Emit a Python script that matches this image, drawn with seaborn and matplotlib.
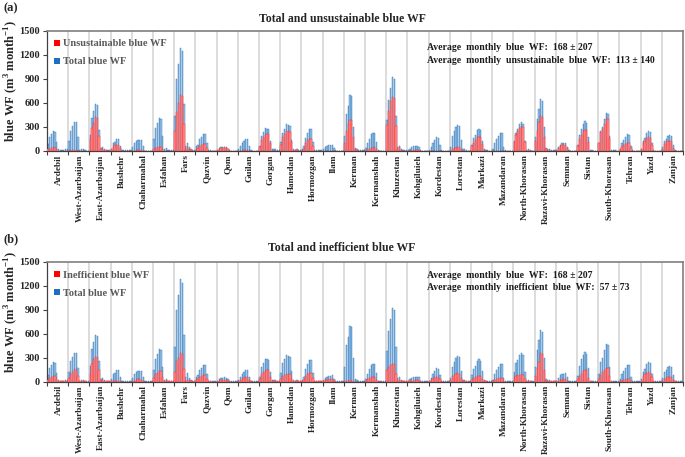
import numpy as np
import pandas as pd
import matplotlib
matplotlib.use("Agg")
import matplotlib.pyplot as plt
from matplotlib.patches import Patch
import seaborn as sns

provinces = ["Ardebil", "West-Azarbaijan", "East-Azarbaijan", "Bushehr", "Chaharmahal",
             "Esfahan", "Fars", "Qazvin", "Qom", "Guilan", "Gorgan", "Hamedan",
             "Hormozgan", "Ilam", "Kerman", "Kermanshah", "Khuzestan", "Kohgiluieh",
             "Kordestan", "Lorestan", "Markazi", "Mazandaran", "North-Khorasan",
             "Razavi-Khorasan", "Semnan", "Sistan", "South-Khorasan", "Tehran", "Yazd", "Zanjan"]

# monthly total blue WF (12 months per province)
total_wf = [
    [90, 175, 215, 250, 240, 115, 20, 15, 10, 15, 20, 20],        # Ardebil
    [120, 255, 305, 360, 355, 170, 15, 25, 20, 10, 5, 5],         # West-Azarbaijan
    [195, 405, 495, 585, 570, 265, 35, 50, 25, 15, 10, 10],       # East-Azarbaijan
    [30, 95, 110, 145, 145, 65, 15, 10, 10, 10, 10, 10],          # Bushehr
    [45, 100, 120, 140, 140, 135, 65, 5, 3, 3, 3, 5],             # Chaharmahal
    [145, 290, 350, 405, 400, 190, 20, 35, 15, 10, 10, 10],       # Esfahan
    [430, 900, 1085, 1285, 1240, 585, 60, 105, 50, 20, 15, 10],   # Fars
    [60, 80, 145, 175, 210, 210, 100, 15, 10, 5, 5, 5],           # Qazvin
    [15, 35, 45, 50, 55, 50, 30, 10, 5, 5, 5, 5],                 # Qom
    [20, 60, 95, 120, 150, 150, 60, 10, 5, 3, 3, 3],              # Guilan
    [60, 185, 235, 285, 280, 270, 125, 25, 25, 25, 10, 10],       # Gorgan
    [110, 230, 280, 335, 320, 310, 140, 20, 15, 20, 10, 10],      # Hamedan
    [20, 60, 165, 225, 275, 275, 115, 10, 10, 10, 10, 15],        # Hormozgan
    [20, 45, 60, 70, 75, 80, 40, 15, 5, 5, 5, 5],                 # Ilam
    [185, 455, 565, 700, 680, 300, 35, 20, 15, 10, 10, 10],       # Kerman
    [40, 95, 155, 215, 225, 220, 115, 10, 5, 5, 5, 5],            # Kermanshah
    [380, 640, 780, 920, 900, 430, 45, 60, 25, 10, 10, 10],       # Khuzestan
    [10, 30, 45, 60, 65, 60, 55, 15, 5, 5, 5, 5],                 # Kohgiluieh
    [10, 50, 100, 135, 170, 165, 80, 15, 5, 5, 5, 5],             # Kordestan
    [50, 190, 250, 300, 325, 315, 140, 20, 25, 10, 5, 5],         # Lorestan
    [80, 160, 200, 260, 280, 265, 130, 20, 15, 10, 5, 5],         # Markazi
    [25, 95, 150, 190, 220, 220, 50, 10, 5, 5, 5, 5],             # Mazandaran
    [125, 230, 275, 330, 360, 340, 125, 15, 20, 10, 5, 5],        # North-Khorasan
    [180, 400, 520, 650, 620, 300, 40, 25, 20, 10, 10, 10],       # Razavi-Khorasan
    [15, 45, 80, 95, 100, 105, 55, 10, 5, 5, 5, 5],               # Semnan
    [75, 200, 280, 340, 370, 350, 170, 15, 10, 5, 5, 5],          # Sistan
    [100, 250, 300, 400, 470, 460, 190, 15, 10, 10, 5, 5],        # South-Khorasan
    [30, 100, 135, 175, 210, 205, 65, 10, 5, 5, 5, 5],            # Tehran
    [30, 120, 160, 220, 245, 235, 100, 10, 5, 5, 5, 5],           # Yazd
    [50, 120, 150, 185, 200, 190, 80, 10, 5, 5, 5, 5],            # Zanjan
]

# monthly unsustainable blue WF
unsustainable_wf = [
    [20, 30, 40, 45, 40, 20, 5, 5, 3, 2, 5, 5],
    [5, 10, 10, 10, 10, 5, 0, 0, 0, 0, 0, 0],
    [150, 290, 350, 420, 410, 190, 20, 30, 15, 8, 5, 5],
    [20, 50, 75, 80, 75, 40, 5, 5, 5, 5, 5, 5],
    [3, 5, 8, 10, 10, 8, 5, 0, 0, 0, 0, 0],
    [20, 35, 45, 50, 50, 25, 5, 5, 3, 2, 2, 2],
    [245, 490, 600, 700, 690, 330, 30, 45, 20, 10, 5, 5],
    [25, 40, 60, 80, 90, 85, 40, 5, 3, 2, 2, 2],
    [10, 25, 35, 40, 45, 40, 20, 5, 3, 3, 3, 3],
    [2, 5, 5, 8, 10, 10, 5, 2, 0, 0, 0, 0],
    [45, 135, 180, 205, 215, 210, 100, 5, 5, 5, 3, 3],
    [80, 170, 215, 245, 245, 235, 115, 10, 10, 10, 5, 5],
    [10, 30, 100, 135, 150, 150, 60, 5, 5, 5, 5, 5],
    [2, 3, 5, 5, 5, 5, 3, 1, 0, 0, 0, 0],
    [105, 255, 335, 385, 385, 170, 20, 10, 5, 5, 5, 5],
    [5, 20, 30, 40, 40, 45, 20, 2, 0, 0, 0, 0],
    [320, 500, 620, 670, 660, 310, 30, 45, 15, 5, 5, 5],
    [2, 5, 5, 8, 10, 10, 8, 3, 1, 0, 0, 0],
    [1, 2, 3, 4, 5, 5, 3, 1, 0, 0, 0, 0],
    [5, 25, 35, 40, 45, 45, 20, 5, 3, 2, 2, 2],
    [65, 100, 135, 170, 175, 170, 90, 10, 5, 5, 3, 3],
    [1, 2, 3, 3, 3, 3, 2, 1, 0, 0, 0, 0],
    [110, 200, 250, 290, 300, 295, 110, 5, 10, 5, 3, 3],
    [125, 255, 360, 430, 420, 180, 25, 15, 10, 5, 5, 5],
    [10, 35, 60, 70, 75, 75, 40, 5, 2, 2, 2, 2],
    [65, 150, 200, 250, 265, 265, 115, 5, 5, 3, 3, 3],
    [95, 235, 270, 335, 400, 400, 165, 5, 5, 5, 3, 3],
    [20, 55, 75, 90, 100, 95, 40, 5, 2, 2, 2, 2],
    [20, 95, 125, 160, 170, 165, 70, 5, 2, 2, 2, 2],
    [30, 85, 110, 120, 125, 120, 40, 5, 2, 2, 2, 2],
]

# monthly inefficient blue WF
inefficient_wf = [
    [25, 50, 65, 75, 75, 30, 5, 5, 3, 3, 5, 5],
    [45, 95, 125, 155, 150, 75, 5, 5, 5, 3, 2, 2],
    [100, 220, 285, 315, 310, 145, 15, 20, 10, 5, 5, 5],
    [5, 10, 12, 15, 15, 8, 2, 2, 2, 2, 2, 2],
    [5, 15, 25, 30, 30, 25, 10, 0, 0, 0, 0, 0],
    [50, 95, 115, 135, 140, 60, 5, 10, 5, 3, 3, 3],
    [120, 255, 300, 355, 345, 165, 15, 25, 10, 5, 3, 3],
    [20, 35, 55, 75, 85, 85, 35, 5, 3, 2, 2, 2],
    [5, 12, 18, 22, 22, 20, 10, 3, 2, 2, 2, 2],
    [5, 20, 35, 45, 55, 55, 20, 3, 0, 0, 0, 0],
    [30, 95, 120, 140, 150, 145, 60, 5, 5, 5, 3, 3],
    [30, 70, 85, 100, 100, 95, 40, 5, 5, 5, 3, 3],
    [5, 25, 70, 95, 115, 115, 45, 3, 3, 3, 3, 3],
    [8, 18, 25, 30, 30, 30, 15, 5, 2, 2, 2, 2],
    [3, 5, 8, 10, 10, 5, 2, 1, 0, 0, 0, 0],
    [15, 35, 50, 60, 65, 65, 20, 3, 2, 2, 2, 2],
    [150, 190, 210, 225, 225, 95, 15, 20, 10, 5, 5, 5],
    [3, 8, 12, 15, 18, 18, 15, 5, 1, 0, 0, 0],
    [5, 25, 40, 55, 65, 65, 35, 5, 2, 2, 2, 2],
    [20, 70, 90, 100, 105, 100, 45, 5, 5, 3, 2, 2],
    [25, 50, 60, 70, 75, 75, 40, 5, 3, 2, 2, 2],
    [5, 20, 35, 45, 50, 50, 15, 2, 0, 0, 0, 0],
    [45, 70, 80, 90, 95, 90, 30, 3, 5, 3, 2, 2],
    [70, 170, 250, 365, 350, 150, 15, 10, 5, 3, 3, 3],
    [5, 12, 20, 25, 28, 28, 15, 2, 1, 1, 1, 1],
    [30, 70, 100, 130, 145, 150, 50, 5, 2, 2, 2, 2],
    [40, 90, 120, 150, 175, 170, 70, 5, 2, 2, 2, 2],
    [5, 15, 20, 28, 30, 30, 10, 2, 1, 1, 1, 1],
    [15, 70, 95, 115, 120, 115, 55, 3, 2, 2, 2, 2],
    [15, 35, 45, 55, 60, 60, 25, 3, 2, 2, 2, 2],
]

y_ticks = [0, 300, 600, 900, 1200, 1500]

sns.set_theme(style="white")
plt.rcParams["font.family"] = ["Liberation Serif", "DejaVu Serif"]
plt.rcParams["font.weight"] = "bold"
plt.rcParams["mathtext.fontset"] = "custom"
plt.rcParams["mathtext.rm"] = "Liberation Serif:bold"
plt.rcParams["mathtext.bf"] = "Liberation Serif:bold"

n_prov = len(provinces)
n_month = 12
pos = np.array([g * n_month + m + 0.5 for g in range(n_prov) for m in range(n_month)])
df = pd.DataFrame({
    "pos": pos,
    "total": np.array(total_wf, dtype=float).ravel(),
    "unsust": np.array(unsustainable_wf, dtype=float).ravel(),
    "ineff": np.array(inefficient_wf, dtype=float).ravel(),
})

W, H = 685, 457
fig = plt.figure(figsize=(W / 100, H / 100), dpi=100)

BLUE_FACE = "#96C1E6"
BLUE_EDGE = "#2E75B6"
RED_FACE = "#FF9494"
RED_EDGE = "#FF1A1A"


def make_panel(top_px, bottom_px, sub_col, sub_label, title, tag, stat1, stat2, title_y):
    ax = fig.add_axes([47 / W, 1 - bottom_px / H, 636 / W, (bottom_px - top_px) / H])
    for g in range(1, n_prov):
        ax.axvline(g * n_month, color="#D9D9D9", lw=1.3, zorder=0)
    sns.barplot(data=df, x="pos", y="total", native_scale=True, color=BLUE_FACE,
                saturation=1, width=0.72, errorbar=None, ax=ax,
                edgecolor=BLUE_EDGE, linewidth=0.3, zorder=2)
    sns.barplot(data=df, x="pos", y=sub_col, native_scale=True, color=RED_FACE,
                saturation=1, width=0.72, errorbar=None, ax=ax,
                edgecolor=RED_EDGE, linewidth=0.3, zorder=3)
    ax.set_xlim(0, n_prov * n_month)
    ax.set_ylim(0, 1500)
    ax.set_yticks(y_ticks)
    ax.set_yticklabels([str(v) for v in y_ticks], fontsize=7.5, fontweight="bold")
    ax.set_xticks([g * n_month + 6.5 for g in range(n_prov)])
    ax.set_xticklabels(provinces, rotation=90, fontsize=6.7, fontweight="bold",
                       ha="center", va="top")
    ax.set_xticks([g * n_month for g in range(n_prov + 1)], minor=True)
    ax.tick_params(axis="x", which="major", length=0, pad=2.5)
    ax.tick_params(axis="x", which="minor", length=3, width=0.8, color="#404040",
                   direction="out", bottom=True)
    ax.tick_params(axis="y", which="major", length=3, width=0.8, color="#404040",
                   direction="out", left=True, pad=2)
    ax.set_xlabel("")
    ax.set_ylabel("")
    for side in ["top", "right"]:
        ax.spines[side].set_color("#7F7F7F")
        ax.spines[side].set_linewidth(1.2)
    for side in ["left", "bottom"]:
        ax.spines[side].set_color("#404040")
        ax.spines[side].set_linewidth(0.9)
    handles = [Patch(facecolor="#FF0000", edgecolor="none", label=sub_label),
               Patch(facecolor="#1F6FC0", edgecolor="none", label="Total blue WF")]
    leg = ax.legend(handles=handles, loc="upper left", bbox_to_anchor=(0.005, 0.96),
                    frameon=False, fontsize=7.5, handlelength=0.55, handleheight=0.55,
                    handletextpad=0.3, labelspacing=0.85, borderaxespad=0)
    for t in leg.get_texts():
        t.set_color("#595959")
        t.set_fontweight("bold")
    ax.text(0.597, stat1[1], stat1[0], transform=ax.transAxes, fontsize=7,
            fontweight="bold", va="center", ha="left", color="#1a1a1a")
    ax.text(0.597, stat2[1], stat2[0], transform=ax.transAxes, fontsize=7,
            fontweight="bold", va="center", ha="left", color="#1a1a1a")
    fig.text(342 / W, 1 - title_y / H, title, fontsize=8.5, fontweight="bold",
             ha="center", va="center")
    fig.text(3 / W, 1 - (top_px - 22) / H, tag, fontsize=9, fontweight="bold",
             ha="left", va="center")
    fig.text(11 / W, 1 - (top_px + 50) / H,
             r"blue WF (m$^{\mathbf{3}}$ month$^{\mathbf{-1}}$)", fontsize=9,
             fontweight="bold", rotation=90, ha="center", va="center")
    return ax


make_panel(30.5, 151, "unsust", "Unsustainable blue WF", "Total and unsustainable blue WF", "(a)",
           ("Average  monthly  blue  WF:  168 \u00b1 207", 0.857),
           ("Average  monthly  unsustainable  blue  WF:  113 \u00b1 140", 0.755), 19)
make_panel(261.7, 381.7, "ineff", "Inefficient blue WF", "Total and inefficient blue WF", "(b)",
           ("Average  monthly  blue  WF:  168 \u00b1 207", 0.883),
           ("Average  monthly  inefficient  blue  WF:  57 \u00b1 73", 0.783), 248)

fig.savefig("out.png", dpi=100)
